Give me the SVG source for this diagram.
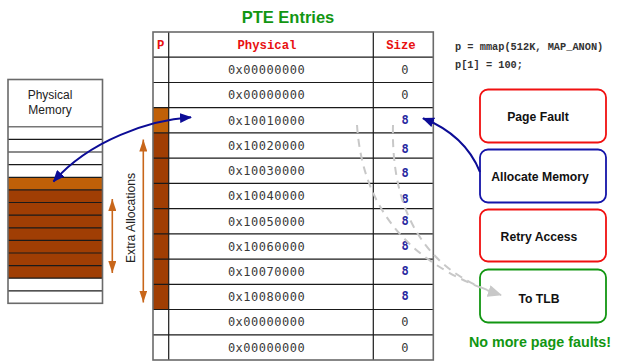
<svg xmlns="http://www.w3.org/2000/svg" width="619" height="361" viewBox="0 0 619 361">
  <style>
    .mono { font-family: "DejaVu Sans Mono", "Liberation Mono", monospace; font-size: 12px; fill: #3a3a3a; text-anchor: middle; letter-spacing: 0.5px; }
    .eight { font-family: "DejaVu Sans Mono", monospace; font-size: 12px; font-weight: bold; fill: #2828a0; text-anchor: middle; }
    .hdr { font-family: "Liberation Mono", "Courier New", monospace; font-size: 12.3px; font-weight: bold; fill: #e81010; text-anchor: middle; }
    .code { font-family: "Liberation Mono", "Courier New", monospace; font-size: 10.3px; font-weight: bold; fill: #333; }
    .btxt { font-family: "Liberation Sans", Arial, sans-serif; font-size: 12.2px; font-weight: bold; fill: #111; text-anchor: middle; }
    .box { fill: #fff; stroke-width: 1.8; }
    .grid { stroke: #1a1a1a; stroke-width: 1.2; fill: none; }
    .frame { stroke: #6a6a6a; stroke-width: 1.6; fill: none; }
    .lite { fill: #c06008; }
    .dark { fill: #a03e04; }
    .blue { fill: none; stroke: #0c0c96; stroke-width: 2; }
    .dash { fill: none; stroke: #c8c8c8; stroke-width: 2; stroke-dasharray: 8 6; }
    .orange { stroke: #c8661a; stroke-width: 1.6; }
  </style>
  <defs>
    <marker id="blueHead" viewBox="0 0 12 10" refX="11" refY="5" markerWidth="12" markerHeight="10" markerUnits="userSpaceOnUse" orient="auto-start-reverse">
      <path d="M0,0 L12,5 L0,10 z" fill="#0c0c96"/>
    </marker>
    <marker id="orangeHead" viewBox="0 0 12 8" refX="12" refY="4" markerWidth="12" markerHeight="8" markerUnits="userSpaceOnUse" orient="auto-start-reverse">
      <path d="M0,0 L12,4 L0,8 z" fill="#c8661a"/>
    </marker>
    <marker id="greyHead" viewBox="0 0 14 12" refX="13" refY="6" markerWidth="14" markerHeight="12" markerUnits="userSpaceOnUse" orient="auto">
      <path d="M0,0 L14,6 L0,12 z" fill="#c8c8c8"/>
    </marker>
  </defs>

  <rect width="619" height="361" fill="#fff"/>

  <!-- title -->
  <text x="288" y="23" font-family="Liberation Sans, Arial, sans-serif" font-size="16.5" font-weight="bold" fill="#129612" text-anchor="middle">PTE Entries</text>

  <!-- physical memory column -->
  <g id="physical-memory">
    <rect x="8" y="79.5" width="94.5" height="47" fill="#fff"/>
    <text x="50" y="99" font-family="Liberation Sans, Arial, sans-serif" font-size="12" fill="#222" text-anchor="middle">Physical</text>
    <text x="50" y="114" font-family="Liberation Sans, Arial, sans-serif" font-size="12" fill="#222" text-anchor="middle">Memory</text>
    <rect class="lite" x="8" y="177.3" width="94.5" height="12.6"/>
    <rect class="dark" x="8" y="189.9" width="94.5" height="88.3"/>
    <g class="grid">
      <line x1="8" y1="139.3" x2="102.5" y2="139.3"/>
      <line x1="8" y1="152" x2="102.5" y2="152"/>
      <line x1="8" y1="164.6" x2="102.5" y2="164.6"/>
      <line x1="8" y1="177.3" x2="102.5" y2="177.3"/>
      <line x1="8" y1="189.9" x2="102.5" y2="189.9"/>
      <line x1="8" y1="202.5" x2="102.5" y2="202.5"/>
      <line x1="8" y1="215.2" x2="102.5" y2="215.2"/>
      <line x1="8" y1="227.8" x2="102.5" y2="227.8"/>
      <line x1="8" y1="240.4" x2="102.5" y2="240.4"/>
      <line x1="8" y1="253" x2="102.5" y2="253"/>
      <line x1="8" y1="265.6" x2="102.5" y2="265.6"/>
      <line x1="8" y1="278.2" x2="102.5" y2="278.2"/>
      <line x1="8" y1="290.8" x2="102.5" y2="290.8"/>
    </g>
    <line x1="8" y1="126.7" x2="102.5" y2="126.7" stroke="#777" stroke-width="1.4"/>
    <rect class="frame" x="8" y="79.5" width="94.5" height="223.8"/>
  </g>

  <!-- extra allocation span -->
  <g id="extra-allocations">
    <line class="orange" x1="112.3" y1="199" x2="112.3" y2="273" marker-start="url(#orangeHead)" marker-end="url(#orangeHead)"/>
    <line class="orange" x1="143.3" y1="139.5" x2="143.3" y2="302.5" marker-start="url(#orangeHead)" marker-end="url(#orangeHead)"/>
    <text transform="translate(134.5,218) rotate(-90)" font-family="Liberation Sans, Arial, sans-serif" font-size="12.2" fill="#222" text-anchor="middle">Extra Allocations</text>
  </g>

  <!-- page table -->
  <g id="pte-table">
    <rect class="lite" x="153" y="107.7" width="15.7" height="25.2"/>
    <rect class="dark" x="153" y="132.9" width="15.7" height="176.6"/>
    <g class="grid">
      <line x1="153" y1="57.2" x2="433.3" y2="57.2"/>
      <line x1="153" y1="82.5" x2="433.3" y2="82.5"/>
      <line x1="153" y1="107.7" x2="433.3" y2="107.7"/>
      <line x1="153" y1="132.9" x2="433.3" y2="132.9"/>
      <line x1="153" y1="158.2" x2="433.3" y2="158.2"/>
      <line x1="153" y1="183.4" x2="433.3" y2="183.4"/>
      <line x1="153" y1="208.6" x2="433.3" y2="208.6"/>
      <line x1="153" y1="233.8" x2="433.3" y2="233.8"/>
      <line x1="153" y1="259.1" x2="433.3" y2="259.1"/>
      <line x1="153" y1="284.3" x2="433.3" y2="284.3"/>
      <line x1="153" y1="309.5" x2="433.3" y2="309.5"/>
      <line x1="153" y1="334.8" x2="433.3" y2="334.8"/>
      <line x1="168.7" y1="32" x2="168.7" y2="360"/>
      <line x1="373.3" y1="32" x2="373.3" y2="360"/>
    </g>
    <rect class="frame" x="153" y="32" width="280.3" height="328"/>

    <text class="hdr" x="160.8" y="48.5">P</text>
    <text class="hdr" x="267" y="48.5">Physical</text>
    <text class="hdr" x="401" y="48.5">Size</text>

    <text class="mono" x="266.5" y="74.2">0x00000000</text>
    <text class="mono" x="266.5" y="99.4">0x00000000</text>
    <text class="mono" x="266.5" y="124.6">0x10010000</text>
    <text class="mono" x="266.5" y="149.9">0x10020000</text>
    <text class="mono" x="266.5" y="175.1">0x10030000</text>
    <text class="mono" x="266.5" y="200.3">0x10040000</text>
    <text class="mono" x="266.5" y="225.5">0x10050000</text>
    <text class="mono" x="266.5" y="250.8">0x10060000</text>
    <text class="mono" x="266.5" y="276">0x10070000</text>
    <text class="mono" x="266.5" y="301.2">0x10080000</text>
    <text class="mono" x="266.5" y="326.4">0x00000000</text>
    <text class="mono" x="266.5" y="351.7">0x00000000</text>

    <text class="mono" x="405" y="74.2">0</text>
    <text class="mono" x="405" y="99.4">0</text>
    <text class="eight" x="405" y="124.4">8</text>
    <text class="eight" x="405" y="152.6">8</text>
    <text class="eight" x="405" y="177">8</text>
    <text class="eight" x="405" y="203.3">8</text>
    <text class="eight" x="405" y="225">8</text>
    <text class="eight" x="405" y="250">8</text>
    <text class="eight" x="405" y="275.3">8</text>
    <text class="eight" x="405" y="300">8</text>
    <text class="mono" x="405" y="326.4">0</text>
    <text class="mono" x="405" y="351.7">0</text>
  </g>

  <!-- source snippet -->
  <g id="code">
    <text class="code" x="455" y="49.5">p = mmap(512K, MAP_ANON)</text>
    <text class="code" x="455" y="68">p[1] = 100;</text>
  </g>

  <!-- fault handling steps -->
  <g id="page-fault">
    <rect class="box" x="480" y="89.5" width="126" height="53" rx="8" stroke="#f01010"/>
    <text class="btxt" x="538" y="121">Page Fault</text>
  </g>
  <g id="allocate-memory">
    <rect class="box" x="480" y="149.5" width="126" height="53" rx="8" stroke="#1414a8"/>
    <text class="btxt" x="540" y="181">Allocate Memory</text>
  </g>
  <g id="retry-access">
    <rect class="box" x="480" y="209.5" width="126" height="52" rx="8" stroke="#f01010"/>
    <text class="btxt" x="539" y="240.5">Retry Access</text>
  </g>
  <g id="to-tlb">
    <rect class="box" x="480" y="269.5" width="126" height="53" rx="8" stroke="#129612"/>
    <text class="btxt" x="539" y="302.5">To TLB</text>
  </g>

  <text x="540" y="347" font-family="Liberation Sans, Arial, sans-serif" font-size="14.3" font-weight="bold" fill="#129612" text-anchor="middle">No more page faults!</text>

  <!-- connectors -->
  <g id="connectors">
    <path class="blue" d="M191,117.3 C150,120 90,140 53.5,181.5" marker-start="url(#blueHead)" marker-end="url(#blueHead)"/>
    <path class="blue" d="M480,172 Q465,135 423,118.3" marker-end="url(#blueHead)"/>
    <path class="dash" d="M357,125 C362,200 400,262 501,295" marker-end="url(#greyHead)"/>
    <path class="dash" d="M393,125 C391,205 420,265 490,291"/>
  </g>
</svg>
